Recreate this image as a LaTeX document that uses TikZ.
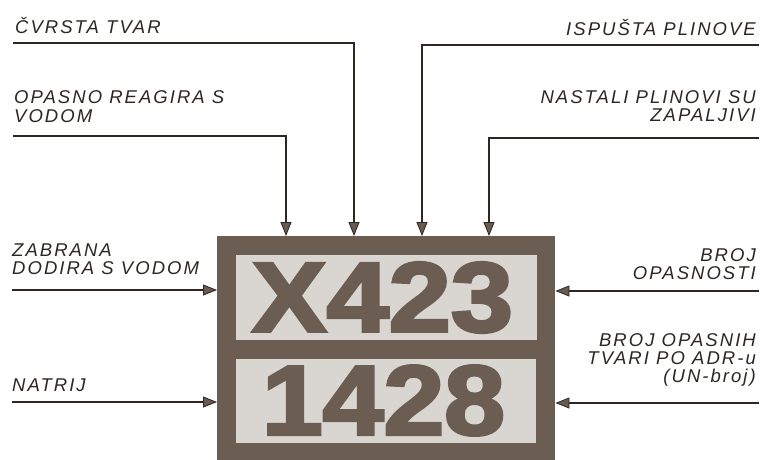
\documentclass[tikz,border=0pt]{standalone}
\usepackage{fontspec}
\setmainfont{Liberation Sans}
\newfontfamily\lblfont[LetterSpace=11]{Liberation Sans}
\newfontfamily\bigfont[FakeBold=3]{Liberation Sans Bold}
\usetikzlibrary{arrows.meta}
\definecolor{platec}{RGB}{108,93,83}
\definecolor{panelc}{RGB}{217,213,208}
\definecolor{inkc}{RGB}{45,38,34}
\definecolor{tipc}{RGB}{105,90,80}
\begin{document}
\begin{tikzpicture}[x=1pt,y=-1pt,
  arr/.style={draw=inkc, line width=2pt,
    -{Triangle[length=14pt,width=11pt,fill=tipc,line width=0.8pt]}},
  lbl/.style={font=\lblfont\itshape\fontsize{18.5}{18}\selectfont, text=inkc, inner sep=0pt},
  panel/.style={fill=panelc, inner sep=0pt},
  code/.style={text=platec, inner sep=0pt}]
\useasboundingbox (0,0) rectangle (761,459);
% plate
\node[fill=platec, minimum width=338pt, minimum height=224pt, anchor=north west, inner sep=0pt] (plate) at (217,236) {};
\node[panel, minimum width=301pt, minimum height=85pt] (hazpanel) at (386.5,297.5) {};
\node[panel, minimum width=300pt, minimum height=84pt] (unpanel) at (386,401) {};
\node[code] (hazcode) at (382.5,297.5) {\resizebox{261pt}{69pt}{\bigfont X423}};
\node[code] (uncode) at (383.5,400.5) {\resizebox{243pt}{69pt}{\bigfont 1428}};
% labels (base anchor = baseline of last line)
\node[lbl, anchor=base west] (t1) at (15,33) {ČVRSTA TVAR};
\node[lbl, anchor=base west, align=left] (t2) at (14,122) {OPASNO REAGIRA S\\[1pt]VODOM};
\node[lbl, anchor=base west, align=left] (t3) at (12,274) {ZABRANA\\DODIRA S VODOM};
\node[lbl, anchor=base west] (t4) at (12,391) {NATRIJ};
\node[lbl, anchor=base east] (t5) at (756,35) {ISPUŠTA PLINOVE};
\node[lbl, anchor=base east, align=right] (t6) at (756,121) {NASTALI PLINOVI SU\\ZAPALJIVI};
\node[lbl, anchor=base east, align=right] (t7) at (756,279) {BROJ\\OPASNOSTI};
\node[lbl, anchor=base east, align=right] (t8) at (756,382) {BROJ OPASNIH\\TVARI PO ADR-u\\(UN-broj)};
% connectors
\coordinate (s1) at (13,43);  \coordinate (v1) at (354,43);
\coordinate (s2) at (13,136); \coordinate (v2) at (286,136);
\coordinate (s3) at (759,45); \coordinate (v3) at (422,45);
\coordinate (s4) at (759,138);\coordinate (v4) at (489,138);
\draw[arr] (s1) -- (v1) -- (v1 |- plate.north);
\draw[arr] (s2) -- (v2) -- (v2 |- plate.north);
\draw[arr] (s3) -- (v3) -- (v3 |- plate.north);
\draw[arr] (s4) -- (v4) -- (v4 |- plate.north);
\coordinate (l1) at (12,290); \coordinate (l2) at (12,402);
\coordinate (r1) at (759,291); \coordinate (r2) at (759,403);
\draw[arr] (l1) -- (l1 -| plate.west);
\draw[arr] (l2) -- (l2 -| plate.west);
\draw[arr] (r1) -- (r1 -| plate.east);
\draw[arr] (r2) -- (r2 -| plate.east);
\end{tikzpicture}
\end{document}
